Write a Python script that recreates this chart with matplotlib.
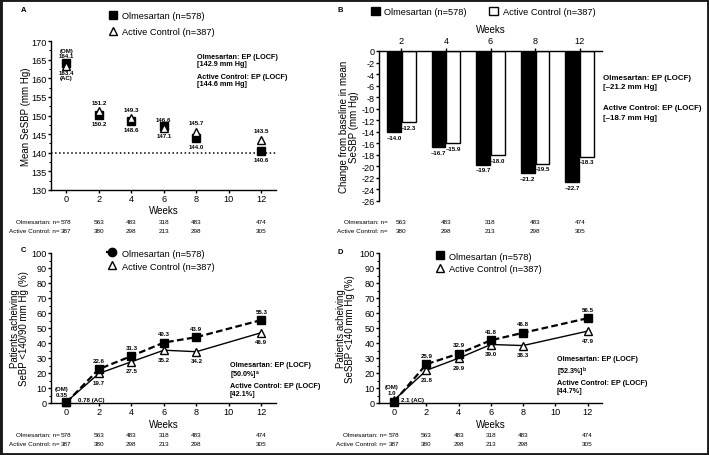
import matplotlib
matplotlib.use('Agg')
import matplotlib.pyplot as plt
import matplotlib.transforms as mtransforms
from matplotlib.lines import Line2D
from matplotlib.patches import Patch, Rectangle
from matplotlib.ticker import MultipleLocator
import numpy as np

plt.rcParams['font.family'] = ['Liberation Sans', 'DejaVu Sans']
plt.rcParams['axes.unicode_minus'] = False

# --- data ---
weeks = [0, 2, 4, 6, 8, 12]
bar_weeks = ['2', '4', '6', '8', '12']

sbp_om = [164.1, 150.2, 148.6, 147.1, 144.0, 140.6]
sbp_ac = [163.4, 151.2, 149.3, 146.6, 145.7, 143.5]

chg_om = [-14.0, -16.7, -19.7, -21.2, -22.7]
chg_ac = [-12.3, -15.9, -18.0, -19.5, -18.3]

bp_goal_om = [0.35, 22.6, 31.3, 40.3, 43.9, 55.3]
bp_goal_ac = [0.78, 19.7, 27.5, 35.2, 34.2, 46.9]

sbp_goal_om = [1.0, 25.9, 32.9, 41.8, 46.8, 56.5]
sbp_goal_ac = [2.1, 21.8, 29.9, 39.0, 38.3, 47.9]

n_om = [578, 563, 483, 318, 483, 474]
n_ac = [387, 380, 298, 213, 298, 305]

goal_line = 140

W, H = 709, 456
fig = plt.figure(figsize=(W / 100, H / 100), dpi=100)

TICK_FS = 6.6


def box(l, t, r, b):
    return [l / W, 1 - b / H, (r - l) / W, (b - t) / H]


def ftext(x, y, s, **kw):
    kw.setdefault('va', 'center')
    kw.setdefault('ha', 'left')
    return fig.text(x / W, 1 - y / H, s, **kw)


def style(ax, minor=None):
    for s in ['top', 'right']:
        ax.spines[s].set_visible(False)
    for s in ax.spines.values():
        s.set_linewidth(1.0)
    ax.tick_params(labelsize=TICK_FS, length=2.2, width=1.0, pad=1)
    if minor:
        ax.yaxis.set_minor_locator(MultipleLocator(minor))
        ax.tick_params(axis='y', which='minor', length=1.2, width=0.8)


def label(ax, x, y, s, dx, dy, va, ha='center', fs=4.4):
    ax.annotate(s, (x, y), xytext=(dx, dy), textcoords='offset points',
                ha=ha, va=va, fontsize=fs, fontweight='bold',
                linespacing=1.1, annotation_clip=False)


def legend(ax, handles, labels, left, top, spacing, ncol=1, colsp=2.0, hl=1.0):
    ax.legend(handles, labels, loc='upper left',
              bbox_to_anchor=(left / W, 1 - top / H), bbox_transform=fig.transFigure,
              frameon=False, fontsize=6.7, borderpad=0, borderaxespad=0,
              handlelength=hl, handleheight=1.0, handletextpad=0.5,
              labelspacing=spacing, ncol=ncol, columnspacing=colsp)


def n_table(ax, xs, om, ac, right, y1, y2):
    tr = mtransforms.blended_transform_factory(ax.transData, fig.transFigure)
    ftext(right, y1, 'Olmesartan: n=', ha='right', fontsize=4.6)
    ftext(right, y2, 'Active Control: n=', ha='right', fontsize=4.6)
    for x, a, b in zip(xs, om, ac):
        ax.text(x, 1 - y1 / H, str(a), transform=tr, ha='center', va='center', fontsize=4.6)
        ax.text(x, 1 - y2 / H, str(b), transform=tr, ha='center', va='center', fontsize=4.6)


tri_style = dict(marker='^', mfc='white', mec='black', mew=1.0, ms=6.3)
sq_style = dict(marker='s', mfc='black', mec='black', ms=5.3)

# ---------------- Panel A ----------------
axA = fig.add_axes(box(51, 42, 276, 191))
style(axA, minor=2.5)
axA.axhline(goal_line, ls=':', color='black', lw=1.1)
axA.plot(weeks, sbp_om, ls='none', zorder=3, clip_on=False, **sq_style)
axA.plot(weeks, sbp_ac, ls='none', zorder=4, clip_on=False, **tri_style)
axA.set_xlim(-0.95, 12.9)
axA.set_ylim(130, 170)
axA.set_xticks(range(0, 13, 2))
axA.set_yticks(range(130, 171, 5))
axA.set_xlabel('Weeks', fontsize=7, va='center')
axA.xaxis.set_label_coords(0.5, -0.134)
axA.set_ylabel('Mean SeSBP (mm Hg)', fontsize=7, va='center')
axA.yaxis.set_label_coords(-0.11, 0.5)
for i, (w, o, a) in enumerate(zip(weeks, sbp_om, sbp_ac)):
    if i == 0:
        label(axA, w, o, f'(OM)\n{o:.1f}', 0, 3.5, 'bottom')
        label(axA, w, a, f'{a:.1f}\n(AC)', 0, -3.2, 'top')
    else:
        label(axA, w, a, f'{a:.1f}', 0, 4.6, 'bottom')
        label(axA, w, o, f'{o:.1f}', 0, -4.6, 'top')
legend(axA,
       [Line2D([], [], ls='none', **sq_style), Line2D([], [], ls='none', **tri_style)],
       ['Olmesartan (n=578)', 'Active Control (n=387)'], 108, 12, 0.72)
ftext(197, 61, 'Olmesartan: EP (LOCF)\n[142.9 mm Hg]', fontsize=5.2, fontweight='bold', linespacing=1.15)
ftext(197, 81, 'Active Control: EP (LOCF)\n[144.6 mm Hg]', fontsize=5.2, fontweight='bold', linespacing=1.15)
n_table(axA, weeks, n_om, n_ac, 59.5, 223, 231.5)
ftext(24, 11, 'A', fontsize=5.5, fontweight='bold', ha='center')

# ---------------- Panel B ----------------
axB = fig.add_axes(box(379, 52, 602, 202))
for s in ['bottom', 'right']:
    axB.spines[s].set_visible(False)
for s in axB.spines.values():
    s.set_linewidth(1.0)
axB.tick_params(labelsize=TICK_FS, length=2.2, width=1.0, pad=1)
xb = np.arange(len(bar_weeks))
bw = 0.31
axB.bar(xb - 0.165, chg_om, width=bw, color='black', edgecolor='black', lw=1.0)
axB.bar(xb + 0.165, chg_ac, width=bw, color='white', edgecolor='black', lw=1.0)
axB.set_xlim(-0.5, 4.5)
axB.set_ylim(-26, 0)
axB.set_yticks(range(-26, 1, 2))
axB.xaxis.tick_top()
axB.xaxis.set_label_position('top')
axB.set_xticks(xb, bar_weeks)
axB.tick_params(axis='x', pad=2)
axB.set_xlabel('Weeks', fontsize=7, labelpad=3)
axB.set_ylabel('Change from baseline in mean\nSeSBP (mm Hg)', fontsize=7, va='center', linespacing=0.95)
axB.yaxis.set_label_coords(-0.135, 0.5)
for x, o, a in zip(xb, chg_om, chg_ac):
    label(axB, x - 0.165, o, f'\u2013{abs(o):.1f}', 0, -2, 'top')
    label(axB, x + 0.165, a, f'\u2013{abs(a):.1f}', 0, -2, 'top')
legend(axB,
       [Patch(facecolor='black', edgecolor='black'), Patch(facecolor='white', edgecolor='black')],
       ['Olmesartan (n=578)', 'Active Control (n=387)'], 371, 7.5, 0.5, ncol=2, colsp=2.4, hl=0.95)
ftext(603, 83, 'Olmesartan: EP (LOCF)\n[\u201321.2 mm Hg]', fontsize=5.7, fontweight='bold', linespacing=1.4)
ftext(603, 113.5, 'Active Control: EP (LOCF)\n[\u201318.7 mm Hg]', fontsize=5.7, fontweight='bold', linespacing=1.4)
n_table(axB, xb, n_om[1:], n_ac[1:], 388, 223, 231.5)
ftext(340, 11, 'B', fontsize=5.5, fontweight='bold', ha='center')


# ---------------- Panels C and D ----------------
def goal_panel(ax, om, ac, ylab, lab_x):
    style(ax, minor=5)
    ax.plot(weeks, ac, color='black', lw=1.0, zorder=3, clip_on=False, **tri_style)
    ax.plot(weeks, om, color='black', lw=1.6, dashes=(3, 1.5), zorder=4, clip_on=False, **sq_style)
    ax.set_xlim(-0.95, 12.9)
    ax.set_ylim(0, 100)
    ax.set_xticks(range(0, 13, 2))
    ax.set_yticks(range(0, 101, 10))
    ax.set_xlabel('Weeks', fontsize=7, va='center')
    ax.xaxis.set_label_coords(0.5, -0.14)
    ax.set_ylabel(ylab, fontsize=7, va='center', linespacing=0.95)
    ax.yaxis.set_label_coords(lab_x, 0.5)
    for i, (w, o, a) in enumerate(zip(weeks, om, ac)):
        if i == 0:
            continue
        label(ax, w, o, f'{o:.1f}', 0, 4.6, 'bottom')
        label(ax, w, a, f'{a:.1f}', 0, -4.6, 'top')


axC = fig.add_axes(box(51, 254, 276, 404))
goal_panel(axC, bp_goal_om, bp_goal_ac, 'Patients acheiving\nSeBP <140/90 mm Hg (%)', -0.14)
label(axC, 0, bp_goal_om[0], f'(OM)\n{bp_goal_om[0]:.2f}', -3.6, 4.2, 'bottom')
label(axC, 0, bp_goal_ac[0], f'{bp_goal_ac[0]:.2f} (AC)', 8, 2, 'center', ha='left')
legend(axC,
       [Line2D([], [], color='black', lw=1.6, dashes=(2, 1), marker='o', ms=6),
        Line2D([], [], ls='none', **tri_style)],
       ['Olmesartan (n=578)', 'Active Control (n=387)'], 106, 249.5, 0.4, hl=1.2)
ftext(230, 380, 'Olmesartan: EP (LOCF)\n[50.0%]$^\\mathregular{a}$\nActive Control: EP (LOCF)\n[42.1%]',
      fontsize=5.2, fontweight='bold', linespacing=1.2)
n_table(axC, weeks, n_om, n_ac, 59.5, 436, 445)
ftext(23, 250, 'C', fontsize=5.5, fontweight='bold', ha='center')

axD = fig.add_axes(box(379, 254, 602, 404))
goal_panel(axD, sbp_goal_om, sbp_goal_ac, 'Patients acheiving\nSeSBP <140 mm Hg (%)', -0.15)
label(axD, 0, sbp_goal_om[0], f'(OM)\n{sbp_goal_om[0]:.1f}', -2, 5.0, 'bottom')
label(axD, 0, sbp_goal_ac[0], f'{sbp_goal_ac[0]:.1f} (AC)', 5, 0, 'center', ha='left')
legend(axD,
       [Line2D([], [], ls='none', **sq_style), Line2D([], [], ls='none', **tri_style)],
       ['Olmesartan (n=578)', 'Active Control (n=387)'], 435.5, 252.5, 0.32)
ftext(557, 367.5, 'Olmesartan: EP (LOCF)\n[52.3%]$^\\mathregular{b}$', fontsize=5.2, fontweight='bold', linespacing=1.2)
ftext(557, 388, 'Active Control: EP (LOCF)\n[44.7%]', fontsize=5.2, fontweight='bold', linespacing=1.2)
n_table(axD, weeks, n_om, n_ac, 387, 436, 445)
ftext(340, 252, 'D', fontsize=5.5, fontweight='bold', ha='center')

# outer frame
fig.patches.append(Rectangle((0, 0), 1, 1, transform=fig.transFigure, fill=False,
                             edgecolor='#1a1a1a', lw=3.5))

fig.savefig('out.png', dpi=100)
